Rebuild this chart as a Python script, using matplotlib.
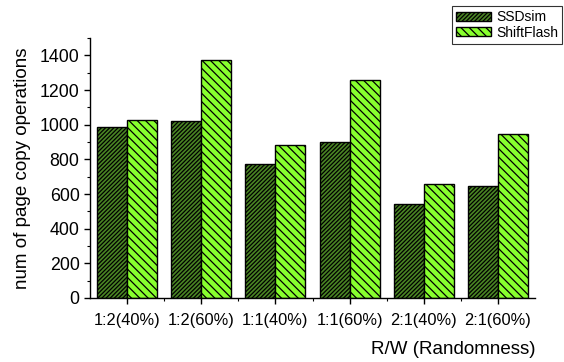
import numpy as np
import matplotlib
matplotlib.use("Agg")
import matplotlib.pyplot as plt
from matplotlib.ticker import MultipleLocator, FixedLocator

plt.rcParams['font.family'] = ['Liberation Sans', 'DejaVu Sans']
plt.rcParams['hatch.linewidth'] = 0.9

categories = ["1:2(40%)", "1:2(60%)", "1:1(40%)", "1:1(60%)", "2:1(40%)", "2:1(60%)"]
ssdsim = [988, 1022, 772, 900, 545, 645]
shiftflash = [1025, 1372, 882, 1260, 660, 948]
series_names = ["SSDsim", "ShiftFlash"]

fig = plt.figure(figsize=(5.64, 3.62), dpi=100)
ax = fig.add_axes([0.1596, 0.1768, 0.7890, 0.7182])

x = np.arange(1, len(categories) + 1)
w = 0.405
b1 = ax.bar(x - w / 2, ssdsim, width=w, color='#4a8524', edgecolor='black',
            linewidth=1.0, hatch='/' * 8, label=series_names[0])
b2 = ax.bar(x + w / 2, shiftflash, width=w, color='#88ff2e', edgecolor='black',
            linewidth=1.0, hatch='\\' * 4, label=series_names[1])

ax.set_xlim(0.5, 6.5)
ax.set_ylim(0, 1500)
ax.set_xticks(x)
ax.set_xticklabels(categories)
ax.xaxis.set_minor_locator(FixedLocator(np.arange(1.5, 6.5, 1.0)))
ax.set_yticks(np.arange(0, 1401, 200))
ax.yaxis.set_minor_locator(MultipleLocator(100))

for s in ['top', 'right']:
    ax.spines[s].set_visible(False)
for s in ['left', 'bottom']:
    ax.spines[s].set_linewidth(1.0)

ax.tick_params(axis='both', which='major', direction='out', length=4.5, width=1.0, pad=3)
ax.tick_params(axis='both', which='minor', direction='out', length=2.5, width=0.8)
ax.tick_params(axis='x', which='major', labelsize=11.8, pad=6)
ax.tick_params(axis='y', which='major', labelsize=12.8)

ax.set_ylabel("num of page copy operations", fontsize=13.5, labelpad=6)
ax.set_xlabel("R/W (Randomness)", fontsize=13.5, loc='right', labelpad=10)

leg = fig.legend(handles=[b1, b2], loc='upper right',
                 bbox_to_anchor=(562 / 564, 1 - 6 / 362), fontsize=10,
                 frameon=True, fancybox=False, shadow=False,
                 handlelength=2.5, handleheight=0.6, handletextpad=0.35,
                 labelspacing=0.1, borderpad=0.3, borderaxespad=0.0)
leg.get_frame().set_edgecolor('black')
leg.get_frame().set_linewidth(0.8)

fig.savefig("out.png", dpi=100)
